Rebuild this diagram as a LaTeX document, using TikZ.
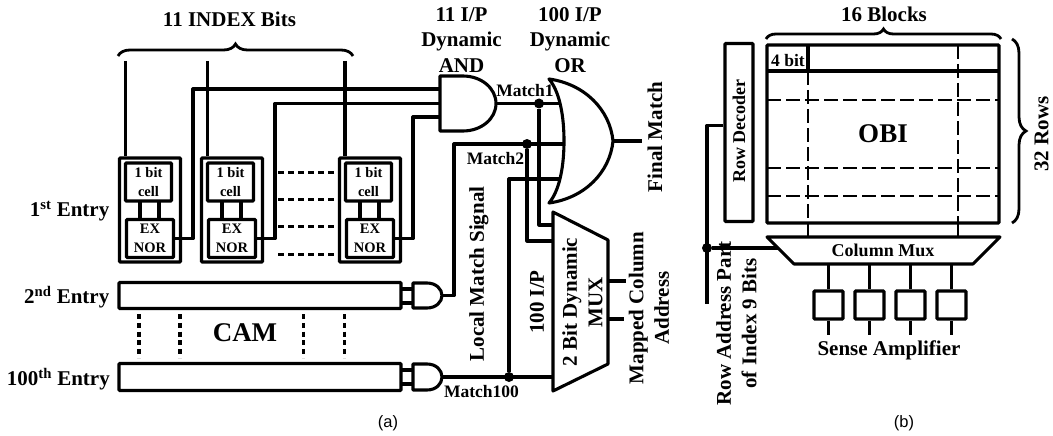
\documentclass[tikz,border=0pt]{standalone}
\usepackage{fontspec}
\setmainfont{Liberation Serif}
\newfontfamily\capfont{Liberation Sans}
\usetikzlibrary{decorations.pathreplacing}

\tikzset{
  wire/.style={line width=3.2pt,line join=round},
  heavybox/.style={draw,line width=3.3pt,rounded corners=1pt,inner sep=0pt},
  dot/.style={circle,fill,inner sep=0pt,minimum size=10pt},
  gate/.style={line width=3.1pt,line join=round},
  lab/.style={font=\fontsize{21}{25.5}\selectfont\bfseries,align=center,inner sep=0pt},
  midlab/.style={font=\fontsize{18}{22}\selectfont\bfseries,align=center,inner sep=0pt},
  tinylab/.style={font=\fontsize{14.5}{18.5}\selectfont\bfseries,align=center,inner sep=0pt},
  matchlab/.style={font=\fontsize{17.5}{20}\selectfont\bfseries,inner sep=0pt},
  caplab/.style={font=\capfont\fontsize{16.5}{20}\selectfont,inner sep=0pt},
  bracket/.style={line width=2.8pt,decorate,decoration={brace,amplitude=#1}},
  entrydash/.style={line width=3pt,dash pattern=on 6pt off 4pt},
  rowdash/.style={line width=3.4pt,dash pattern=on 5pt off 3.8pt},
  griddash/.style={line width=1.8pt,dash pattern=on 14pt off 5pt},
}

\begin{document}
\begin{tikzpicture}[x=1pt,y=-1pt]
  \useasboundingbox (0,0) rectangle (1053,436);

  % part (a): first entry
  \node[heavybox,minimum width=61pt,minimum height=104pt] (entry1a) at (150,210) {};
  \node[heavybox,minimum width=61pt,minimum height=104pt] (entry1b) at (232,210) {};
  \node[heavybox,minimum width=61pt,minimum height=104pt] (entry1c) at (370,210) {};
  \node[heavybox,tinylab,minimum width=46pt,minimum height=38pt] (cella) at (148.5,182) {1 bit\\cell};
  \node[heavybox,tinylab,minimum width=46pt,minimum height=38pt] (cellb) at (230.5,182) {1 bit\\cell};
  \node[heavybox,tinylab,minimum width=46pt,minimum height=38pt] (cellc) at (368.5,182) {1 bit\\cell};
  \node[heavybox,tinylab,minimum width=47pt,minimum height=38pt] (exnora) at (150,238.5) {EX\\NOR};
  \node[heavybox,tinylab,minimum width=47pt,minimum height=38pt] (exnorb) at (232,238.5) {EX\\NOR};
  \node[heavybox,tinylab,minimum width=47pt,minimum height=38pt] (exnorc) at (370,238.5) {EX\\NOR};
  \draw[wire] (140,201) -- (140,219) (159,201) -- (159,219);
  \draw[wire] (222,201) -- (222,219) (241,201) -- (241,219);
  \draw[wire] (360,201) -- (360,219) (379,201) -- (379,219);
  \draw[entrydash] (278,172) -- (334,172);
  \draw[entrydash] (278,199) -- (334,199);
  \draw[entrydash] (278,226) -- (334,226);
  \draw[entrydash] (278,254) -- (334,254);

  % index bits
  \coordinate (bita) at (125.5,61);
  \coordinate (bitb) at (207.5,61);
  \coordinate (bitc) at (345,61);
  \draw[wire] (bita) -- (bita |- entry1a.north);
  \draw[wire] (bitb) -- (bitb |- entry1b.north);
  \draw[wire] (bitc) -- (bitc |- entry1c.north);
  \draw[bracket=12pt] (118,56) -- (353,56);
  \node[lab] (indexlab) at (229.5,19) {11 INDEX Bits};

  % other entries
  \node[heavybox,minimum width=282pt,minimum height=26pt] (entry2) at (260,295.5) {};
  \node[heavybox,minimum width=282pt,minimum height=27pt] (entry100) at (260,377) {};
  \draw[rowdash] (139,314) -- (139,358);
  \draw[rowdash] (180,314) -- (180,358);
  \draw[rowdash] (303.5,314) -- (303.5,358);
  \draw[rowdash] (344.5,314) -- (344.5,358);
  \node[font=\fontsize{27}{30}\selectfont\bfseries,inner sep=0pt] (camlab) at (245,333) {CAM};
  \node[lab,anchor=east] (entrylaba) at (109.5,211) {1\textsuperscript{st} Entry};
  \node[lab,anchor=east] (entrylabb) at (109.5,297) {2\textsuperscript{nd} Entry};
  \node[lab,anchor=east] (entrylabc) at (110,379) {100\textsuperscript{th} Entry};

  % AND gates
  \draw[gate] (440,76) -- (463,76) .. controls (481,76) and (496,88) .. (496,103.5)
    .. controls (496,119) and (481,131) .. (463,131) -- (440,131) -- cycle;
  \draw[gate] (413,283) -- (427,283) .. controls (436,283) and (442,289) .. (442,295.5)
    .. controls (442,302) and (436,308) .. (427,308) -- (413,308) -- cycle;
  \draw[gate] (413,364) -- (427,364) .. controls (436,364) and (442,370) .. (442,377)
    .. controls (442,384) and (436,390) .. (427,390) -- (413,390) -- cycle;
  \draw[wire] (401,289) -- (413,289) (401,303) -- (413,303);
  \draw[wire] (401,370) -- (413,370) (401,384) -- (413,384);

  % OR gate
  \draw[gate] (549,79) .. controls (585,84) and (610,110) .. (613,141)
    .. controls (610,172) and (585,198) .. (549,203)
    .. controls (560,190) and (564,165) .. (564,141)
    .. controls (564,117) and (560,92) .. (549,79) -- cycle;
  \coordinate (orout) at (613,141);
  \coordinate (finalend) at (642,141);
  \draw[wire] (orout) -- (finalend);

  % MUX
  \draw[gate] (553,212) -- (608,240) -- (608,364) -- (553,391) -- cycle;
  \draw[wire] (608,281) -- (626,281);
  \draw[wire] (608,319) -- (624,319);

  % match wiring
  \coordinate (andina) at (440,89);
  \coordinate (andinb) at (440,103.5);
  \coordinate (andinc) at (440,117);
  \coordinate (benda) at (193,89);
  \coordinate (bendb) at (275,103.5);
  \coordinate (bendc) at (413,117);
  \draw[wire] (exnora.east) -| (benda) -- (andina);
  \draw[wire] (exnorb.east) -| (bendb) -- (andinb);
  \draw[wire] (exnorc.east) -| (bendc) -- (andinc);
  \node[dot] (matcha) at (539,103.5) {};
  \node[dot] (matchb) at (527,144) {};
  \node[dot] (matchc) at (509,377) {};
  \coordinate (andout) at (496,103.5);
  \coordinate (orina) at (560,103.5);
  \coordinate (orinb) at (563,144);
  \coordinate (orinc) at (559,179);
  \coordinate (outb) at (442,295.5);
  \coordinate (outc) at (442,377);
  \coordinate (bendm) at (454,144);
  \coordinate (bendn) at (509,179);
  \coordinate (muxina) at (553,225);
  \coordinate (muxinb) at (553,241);
  \coordinate (muxinc) at (553,377);
  \draw[wire] (andout) -- (orina);
  \draw[wire] (outb) -| (bendm) -- (orinb);
  \draw[wire] (matchc) -- (bendn) -- (orinc);
  \draw[wire] (outc) -- (muxinc);
  \draw[wire] (matcha) |- (muxina);
  \draw[wire] (matchb) |- (muxinb);

  % labels of part (a)
  \node[lab] (andlab) at (461.5,40) {11 I/P\\Dynamic\\AND};
  \node[lab] (orlab) at (570,40) {100 I/P\\Dynamic\\OR};
  \node[matchlab] (matchlaba) at (525,91) {Match1};
  \node[matchlab] (matchlabb) at (495.5,159) {Match2};
  \node[matchlab] (matchlabc) at (481.5,392) {Match100};
  \node[lab,rotate=90] (finallab) at (655,137) {Final Match};
  \node[lab,rotate=90] (locallab) at (479,274) {Local Match Signal};
  \node[lab,rotate=90] (ipnlab) at (537,302) {100 I/P};
  \node[lab,rotate=90] (muxlab) at (582.5,302) {2 Bit Dynamic\\MUX};
  \node[lab,rotate=90] (maplab) at (649,308) {Mapped Column\\Address};
  \node[caplab] (caplaba) at (388,423) {(a)};

  % part (b): the array
  \node[heavybox,minimum width=232pt,minimum height=178pt] (obi) at (883,134) {};
  \coordinate (rowl) at (767,71);
  \coordinate (rowr) at (999,71);
  \draw[wire] (rowl) -- (rowr);
  \draw[wire] (808,45) -- (808,71);
  \draw[griddash] (767,100) -- (999,100);
  \draw[griddash] (767,168) -- (999,168);
  \draw[griddash] (767,196) -- (999,196);
  \draw[griddash] (808,71) -- (808,223);
  \draw[griddash] (958,45) -- (958,223);
  \draw[line width=1.8pt] (808,223) -- (808,237);
  \draw[line width=1.8pt] (958,223) -- (958,237);
  \node[font=\fontsize{17.5}{20}\selectfont\bfseries,inner sep=0pt] (bitlab) at (788,61) {4 bit};
  \node[font=\fontsize{27}{30}\selectfont\bfseries,inner sep=0pt] (obilab) at (883,134) {OBI};
  \draw[bracket=10pt] (766,39) -- (1001,39);
  \node[lab] (blocklab) at (884,14.5) {16 Blocks};
  \draw[bracket=14pt] (1012,39) -- (1012,223);
  \node[lab,rotate=90] (rowslab) at (1041.5,134) {32 Rows};

  % row decoder
  \node[heavybox,minimum width=28pt,minimum height=178pt] (decoder) at (739,132.5) {};
  \node[midlab,rotate=90] (decoderlab) at (739,131) {Row Decoder};
  \node[dot] (rowdot) at (707,248) {};
  \coordinate (rowbend) at (707,125.5);
  \coordinate (rowend) at (707,304);
  \coordinate (rowmux) at (778,248);
  \draw[wire] (decoder.west |- rowbend) -- (rowbend) -- (rowend);
  \draw[wire] (rowdot) -- (rowmux);
  \node[lab,rotate=90] (addrlab) at (736.5,323.5) {Row Address Part\\of Index 9 Bits};

  % column mux and sense amplifiers
  \draw[gate] (767,237) -- (1000,237) -- (973,264) -- (794,264) -- cycle;
  \node[midlab] (muxcol) at (883,250) {Column Mux};
  \node[heavybox,minimum width=29pt,minimum height=28pt] (sensea) at (828.5,305) {};
  \node[heavybox,minimum width=29pt,minimum height=28pt] (senseb) at (869.5,305) {};
  \node[heavybox,minimum width=29pt,minimum height=28pt] (sensec) at (910.5,305) {};
  \node[heavybox,minimum width=29pt,minimum height=28pt] (sensed) at (951.5,305) {};
  \draw[wire] (828.5,264) -- (sensea.north) (sensea.south) -- (828.5,335);
  \draw[wire] (869.5,264) -- (senseb.north) (senseb.south) -- (869.5,335);
  \draw[wire] (910.5,264) -- (sensec.north) (sensec.south) -- (910.5,335);
  \draw[wire] (951.5,264) -- (sensed.north) (sensed.south) -- (951.5,335);
  \node[lab] (senselab) at (889,350) {Sense Amplifier};
  \node[caplab] (caplabb) at (904,423) {(b)};
\end{tikzpicture}
\end{document}
